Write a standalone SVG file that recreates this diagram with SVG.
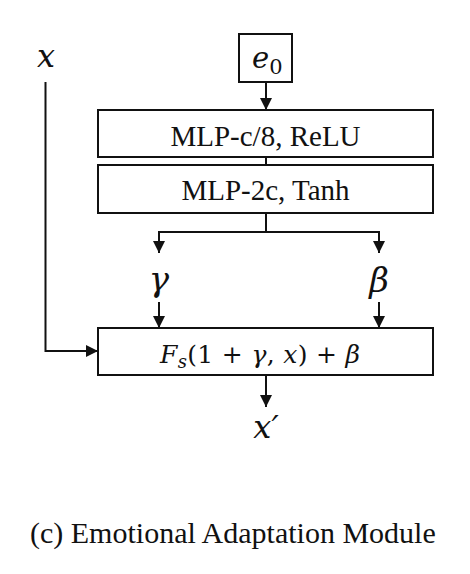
<svg xmlns="http://www.w3.org/2000/svg" width="470" height="574" viewBox="0 0 470 574">
<style>
.box{fill:#fff;stroke:#111;stroke-width:2}
.ln{fill:none;stroke:#111;stroke-width:2}
.t{font-family:"Liberation Serif","Times New Roman",serif;fill:#111}
.m{font-family:"DejaVu Serif","Liberation Serif",serif;font-style:italic;fill:#111}
.mi{font-family:"DejaVu Serif","Liberation Serif",serif;font-style:italic}
.mu{font-family:"DejaVu Serif","Liberation Serif",serif;font-style:normal}
</style>
<defs>
<marker id="ah" markerUnits="userSpaceOnUse" markerWidth="12" markerHeight="12" viewBox="0 0 12 12" refX="12" refY="6" orient="auto">
<path d="M0,0 L12,6 L0,12 Z" fill="#111"/>
</marker>
</defs>
<rect width="470" height="574" fill="#fff"/>
<g id="connectors">
<line class="ln" x1="266" y1="82" x2="266" y2="110" marker-end="url(#ah)"/>
<line class="ln" x1="266" y1="157" x2="266" y2="165"/>
<polyline class="ln" points="266,213 266,232"/>
<polyline class="ln" points="159,253 159,232 379,232 379,253" marker-end="url(#ah)"/>
<line class="ln" x1="159" y1="232" x2="159" y2="253" marker-end="url(#ah)"/>
<line class="ln" x1="159" y1="302" x2="159" y2="328" marker-end="url(#ah)"/>
<line class="ln" x1="379" y1="302" x2="379" y2="328" marker-end="url(#ah)"/>
<polyline class="ln" points="45.5,82 45.5,351 98,351" marker-end="url(#ah)"/>
<line class="ln" x1="266" y1="375" x2="266" y2="407" marker-end="url(#ah)"/>
</g>
<g id="x-in"><text class="m" x="46" y="67" font-size="32" text-anchor="middle">x</text></g>
<g id="e0">
<rect class="box" x="239" y="34" width="53" height="48"/>
<text class="m" x="252" y="68" font-size="29">e<tspan font-style="normal" font-size="21" dy="6">0</tspan></text>
</g>
<g id="mlp1">
<rect class="box" x="98" y="110" width="335" height="47"/>
<text class="t" x="265.5" y="146" font-size="29" text-anchor="middle">MLP-c/8, ReLU</text>
</g>
<g id="mlp2">
<rect class="box" x="98" y="165" width="335" height="48"/>
<text class="t" x="265.5" y="200" font-size="29" text-anchor="middle">MLP-2c, Tanh</text>
</g>
<g id="gamma"><text class="m" x="159" y="291" font-size="34" text-anchor="middle">γ</text></g>
<g id="beta"><text class="m" x="379" y="292" font-size="34" text-anchor="middle">β</text></g>
<g id="fuse">
<rect class="box" x="98" y="328" width="335" height="47"/>
<text x="160" y="363" font-size="25" fill="#111" textLength="200" lengthAdjust="spacing"><tspan class="mi">F</tspan><tspan class="mi" font-size="18" dy="5">s</tspan><tspan class="mu" dy="-5">(1 + </tspan><tspan class="mi">γ</tspan><tspan class="mu">, </tspan><tspan class="mi">x</tspan><tspan class="mu">) + </tspan><tspan class="mi">β</tspan></text>
</g>
<g id="x-out"><text class="m" x="266" y="438" font-size="32" text-anchor="middle">x′</text></g>
<g id="caption"><text class="t" x="30" y="543" font-size="30">(c) Emotional Adaptation Module</text></g>
</svg>
